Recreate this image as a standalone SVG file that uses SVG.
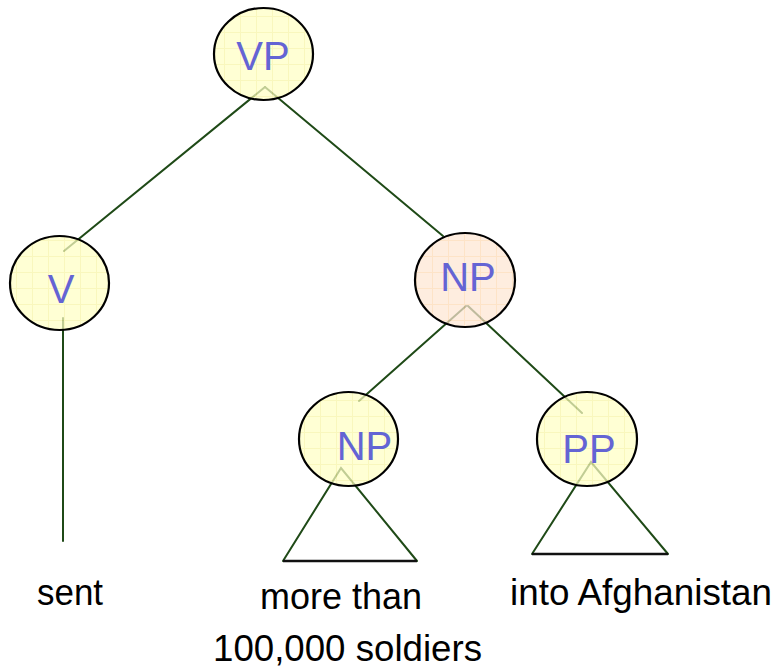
<svg xmlns="http://www.w3.org/2000/svg" width="778" height="671" viewBox="0 0 778 671">
<style>
.edge{stroke:#1f4a17;stroke-width:2;fill:none;stroke-linecap:round}
.base{stroke:#111;stroke-width:2.5;fill:none}
.node{stroke:#000;stroke-width:2.2}
.y{fill:url(#gy);fill-opacity:0.72}
.o{fill:url(#go);fill-opacity:0.72}
.lab{font-family:"Liberation Sans",Arial,sans-serif;font-size:40px;fill:#6464d4;text-anchor:middle}
.word{font-family:"Liberation Sans",Arial,sans-serif;font-size:36px;fill:#000}
</style>
<defs>
<pattern id="gy" width="16" height="16" patternUnits="userSpaceOnUse">
<rect width="16" height="16" fill="#ffffc4"/>
<path d="M0 0.5H16M0.5 0V16" stroke="#f7f4a4" stroke-width="1"/>
</pattern>
<pattern id="go" width="16" height="16" patternUnits="userSpaceOnUse">
<rect width="16" height="16" fill="#fde6d2"/>
<path d="M0 0.5H16M0.5 0V16" stroke="#fcd8b2" stroke-width="1"/>
</pattern>
</defs>
<rect width="778" height="671" fill="#fff"/>
<g id="connectors">
<line class="edge" x1="265" y1="87" x2="64" y2="251"/>
<line class="edge" x1="265" y1="87" x2="443" y2="236"/>
<line class="edge" x1="63" y1="318" x2="63" y2="541"/>
<line class="edge" x1="466" y1="306" x2="359" y2="401"/>
<line class="edge" x1="468" y1="306" x2="582" y2="413"/>
<path class="edge" d="M283 561 L341 468 L417 561"/>
<line class="base" x1="283" y1="561" x2="417" y2="561"/>
<path class="edge" d="M532 554 L591 462 L668 554"/>
<line class="base" x1="532" y1="554" x2="668" y2="554"/>
</g>
<g id="node-VP">
<ellipse class="node y" cx="263.5" cy="54" rx="49.5" ry="46"/>
<text class="lab" x="263" y="70">VP</text>
</g>
<g id="node-V">
<ellipse class="node y" cx="59.5" cy="283" rx="49.5" ry="47"/>
<text class="lab" x="61" y="303">V</text>
</g>
<g id="node-NP1">
<ellipse class="node o" cx="465" cy="280" rx="50" ry="47"/>
<text class="lab" x="468" y="291">NP</text>
</g>
<g id="node-NP2">
<ellipse class="node y" cx="348.5" cy="439" rx="49.5" ry="47"/>
<text class="lab" x="364.5" y="460">NP</text>
</g>
<g id="node-PP">
<ellipse class="node y" cx="587" cy="439" rx="50" ry="47"/>
<text class="lab" x="589" y="463">PP</text>
</g>
<g id="words">
<text class="word" x="37" y="605" textLength="66" lengthAdjust="spacingAndGlyphs">sent</text>
<text class="word" x="260" y="609" textLength="162" lengthAdjust="spacingAndGlyphs">more than</text>
<text class="word" x="213" y="661" textLength="269" lengthAdjust="spacingAndGlyphs">100,000 soldiers</text>
<text class="word" x="510" y="605" textLength="262" lengthAdjust="spacingAndGlyphs">into Afghanistan</text>
</g>
</svg>
